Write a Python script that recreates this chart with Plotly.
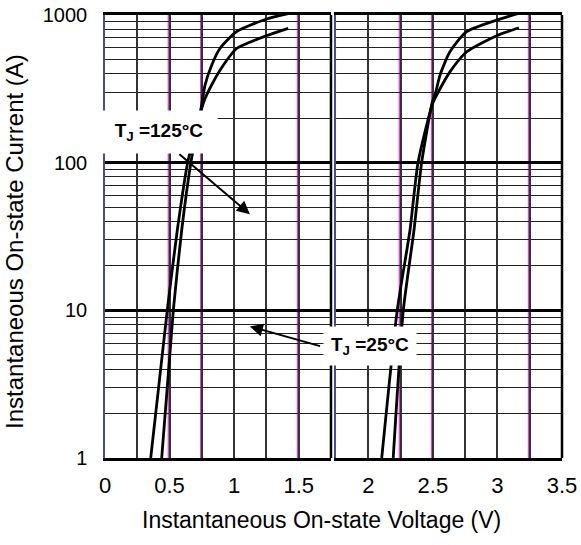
import math
import plotly.graph_objects as go

# ---- data ----
# left panel (0 - 1.75 V)
v125_left = [0.354, 0.482, 0.56, 0.64, 0.748, 0.774, 0.838, 0.916, 1.019, 1.251, 1.419]
i125_left = [1, 10, 35, 100, 232, 271, 352, 457, 593, 724, 812]
v25_left = [0.439, 0.529, 0.594, 0.665, 0.748, 0.774, 0.826, 0.89, 1.019, 1.251, 1.437]
i25_left = [1, 10, 35, 100, 244, 334, 457, 593, 771, 940, 1030]
# right panel (1.75 - 3.5 V)
v125_right = [2.104, 2.224, 2.323, 2.385, 2.497, 2.542, 2.632, 2.762, 2.994, 3.166]
i125_right = [1, 10, 35, 100, 250, 301, 412, 564, 724, 820]
v25_right = [2.193, 2.271, 2.354, 2.413, 2.497, 2.516, 2.555, 2.632, 2.762, 3.187]
i25_right = [1, 10, 35, 100, 260, 286, 391, 564, 771, 1040]

x_left_ticks = [0, 0.25, 0.5, 0.75, 1.0, 1.25, 1.5, 1.75]
x_left_labels = ["0", "", "0.5", "", "1", "", "1.5", ""]
x_right_ticks = [1.75, 2.0, 2.25, 2.5, 2.75, 3.0, 3.25, 3.5]
x_right_labels = ["", "2", "", "2.5", "", "3", "", "3.5"]
y_major = [1, 10, 100, 1000]
y_major_labels = ["1", "10", "100", "1000"]
y_minor = [m * d for d in (1, 10, 100) for m in range(2, 10)]
purple_left = [0.5, 0.75, 1.5]
purple_right = [2.25, 2.5, 3.25]

FONT = "Liberation Sans, Arial, sans-serif"

fig = go.Figure()
line = dict(color="black", width=2.8, shape="spline", smoothing=0.6)
fig.add_trace(go.Scatter(x=v125_left, y=i125_left, mode="lines", line=line, xaxis="x", yaxis="y"))
fig.add_trace(go.Scatter(x=v25_left, y=i25_left, mode="lines", line=line, xaxis="x", yaxis="y"))
fig.add_trace(go.Scatter(x=v125_right, y=i125_right, mode="lines", line=line, xaxis="x2", yaxis="y2"))
fig.add_trace(go.Scatter(x=v25_right, y=i25_right, mode="lines", line=line, xaxis="x2", yaxis="y2"))

xcommon = dict(showgrid=True, gridcolor="#333333", gridwidth=1.5, zeroline=False,
               showline=True, linecolor="black", linewidth=3, mirror=True,
               ticks="", ticklabelstandoff=6, automargin=False,
               tickfont=dict(family=FONT, size=22, color="black"))
ycommon = dict(type="log", range=[0, 3], showgrid=True, gridcolor="black", gridwidth=2.5,
               zeroline=False, showline=True, linecolor="#4a4a9a", linewidth=1.5,
               tickvals=y_major, ticktext=y_major_labels, ticks="", automargin=False,
               minor=dict(tickvals=y_minor, showgrid=True, gridcolor="#222222", gridwidth=1.2, ticks=""),
               tickfont=dict(family=FONT, size=20, color="black"))

fig.update_layout(
    width=581, height=545,
    margin=dict(l=105, r=19, t=15, b=87, autoexpand=False),
    paper_bgcolor="white", plot_bgcolor="rgba(0,0,0,0)",
    showlegend=False,
    xaxis=dict(domain=[0, 0.4945], range=[0, 1.75], tickvals=x_left_ticks, ticktext=x_left_labels,
               anchor="y", **xcommon),
    xaxis2=dict(domain=[0.5055, 1], range=[1.75, 3.5], tickvals=x_right_ticks, ticktext=x_right_labels,
                anchor="y2", **xcommon),
    yaxis=dict(anchor="x", ticklabelstandoff=12, **ycommon),
    yaxis2=dict(anchor="x2", matches="y", showticklabels=False, **ycommon),
)

shapes = []
for xr, yr, vals in (("x", "y domain", purple_left), ("x2", "y2 domain", purple_right)):
    for v in vals:
        shapes.append(dict(type="line", xref=xr, yref=yr,
                           x0=v - 0.007, x1=v - 0.007, y0=0, y1=1,
                           line=dict(color="#dd44dd", width=2), layer="below"))
# right edges of both panels
shapes.append(dict(type="line", xref="x domain", yref="y domain", x0=1, x1=1, y0=0, y1=1,
                   line=dict(color="black", width=2.5)))
shapes.append(dict(type="line", xref="x2 domain", yref="y2 domain", x0=1, x1=1, y0=0, y1=1,
                   line=dict(color="black", width=2.5)))
fig.update_layout(shapes=shapes)

ann = []
ann.append(dict(text="<b>T<sub>J</sub> =125°C</b>", x=0.415, y=2.21, xref="x", yref="y",
                showarrow=False, bgcolor="white", width=104, height=30, borderpad=6,
                font=dict(family=FONT, size=19, color="black")))
ann.append(dict(text="<b>T<sub>J</sub> =25°C</b>", x=2.013, y=0.76, xref="x2", yref="y2",
                showarrow=False, bgcolor="white", width=82, height=28, borderpad=5,
                font=dict(family=FONT, size=19, color="black")))
ann.append(dict(text="", x=1.122, y=1.651, ax=0.565, ay=2.065, xref="x", yref="y", axref="x", ayref="y",
                showarrow=True, arrowhead=2, arrowsize=1.3, arrowwidth=2, arrowcolor="black"))
ann.append(dict(text="", x=1.122, y=0.891, ax=1.677, ay=0.755, xref="x", yref="y", axref="x", ayref="y",
                showarrow=True, arrowhead=2, arrowsize=1.3, arrowwidth=2, arrowcolor="black"))
ann.append(dict(text="Instantaneous On-state Voltage (V)", x=(321 - 105) / 457, y=(458 - 520) / 443,
                xref="paper", yref="paper", showarrow=False, xanchor="center", yanchor="middle",
                font=dict(family=FONT, size=23, color="black")))
ann.append(dict(text="Instantaneous On-state Current (A)", x=(15 - 105) / 457, y=(458 - 242) / 443,
                xref="paper", yref="paper", showarrow=False, textangle=-90, xanchor="center", yanchor="middle",
                font=dict(family=FONT, size=24, color="black")))
fig.update_layout(annotations=ann)

fig.write_html("out.html")
